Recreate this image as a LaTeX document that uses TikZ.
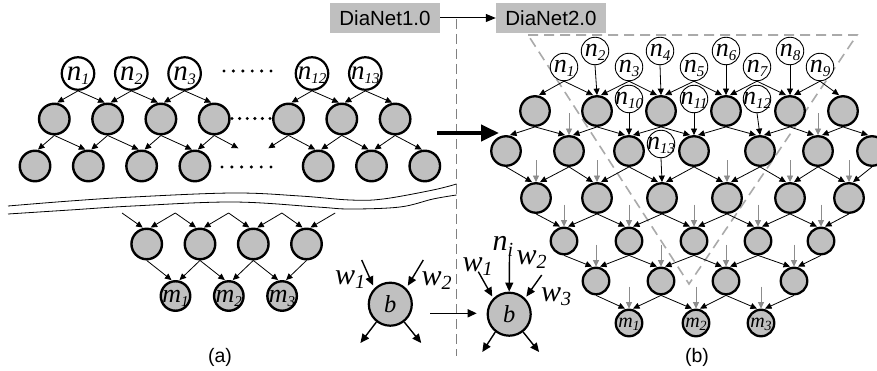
\documentclass[tikz,border=0pt]{standalone}
\usepackage{fontspec}
\setmainfont{Liberation Serif}
\newfontfamily\arialf{Liberation Sans}
\usetikzlibrary{arrows.meta,calc}
\definecolor{gfill}{RGB}{192,192,192}
\definecolor{garrow}{RGB}{140,140,140}
\definecolor{tric}{RGB}{170,170,170}
\definecolor{divc}{RGB}{128,128,128}
\definecolor{boxc}{RGB}{191,191,191}
\newcommand{\fs}[1]{\fontsize{#1}{#1}\selectfont}
\newcommand{\cz}[2]{\smash{\raisebox{#1}{\makebox[0pt]{#2}}}}
\newcommand{\sym}[5]{{\fs{#1}\itshape #4\raisebox{#3}{\fs{#2}#5}}}
\tikzset{
 nA/.style={circle,draw,fill=white,line width=2.2pt,minimum size=32.5pt,inner sep=0pt},
 gA/.style={circle,draw,fill=gfill,line width=2.4pt,minimum size=30.5pt,inner sep=0pt},
 mA/.style={gA,minimum size=29.5pt},
 bN/.style={circle,draw,fill=gfill,line width=2.2pt,minimum size=43pt,inner sep=0pt},
 nB/.style={circle,draw,fill=white,line width=0.9pt,minimum size=27.5pt,inner sep=0pt},
 gB/.style={circle,draw,fill=gfill,line width=2.3pt,minimum size=29.5pt,inner sep=0pt},
 gC/.style={gB,minimum size=26.5pt},
 ar/.style={-{Triangle[length=6.5pt,width=6pt]},line width=0.8pt},
 gar/.style={ar,draw=garrow},
 bar/.style={-{Triangle[length=9pt,width=8pt]},line width=1.4pt},
 box/.style={fill=boxc,minimum width=110pt,minimum height=29.5pt,inner sep=0pt,font=\arialf\fs{20.5}},
 sublab/.style={font=\arialf\fs{19.5},inner sep=0pt},
 wlab/.style={inner sep=0pt},
}
\begin{document}
\begin{tikzpicture}[x=1pt,y=-1pt]
\useasboundingbox (0,0) rectangle (877,371);
\clip (0,0) rectangle (877,371);
\fill[white] (0,0) rectangle (877,371);

% ---------- divider, boxes, big arrow
\coordinate (dvT) at (456.5,19);
\coordinate (dvB) at (456.5,356);
\draw[divc,line width=1.4pt,dash pattern=on 10pt off 5pt] (dvT) -- (dvB);
\node[box] (d1) at (385,18) {DiaNet1.0};
\node[box] (d2) at (551,18) {DiaNet2.0};
\draw[-{Triangle[length=10pt,width=8pt]},line width=1pt] (d1) -- (d2);
\coordinate (bigS) at (437,133);
\coordinate (bigE) at (499,133);
\draw[-{Triangle[length=18pt,width=16pt]},line width=4pt] (bigS) -- (bigE);

% ---------- wave lines
\draw[line width=0.8pt] plot[smooth,tension=0.6] coordinates {(8,206) (70,201) (133,197) (233,193) (300,196) (350,200) (383,199) (433,190) (456.5,184)};
\draw[line width=0.8pt] plot[smooth,tension=0.6] coordinates {(8,214) (70,210) (133,206) (233,202) (317,207) (350,209) (400,207) (433,199) (456.5,195)};

% ---------- part (a)
\node[nA] (nA1) at (78,73.5) {\cz{-6.7pt}{\sym{29}{16}{-4pt}{n}{1}}};
\node[nA] (nA2) at (131.3,73.5) {\cz{-6.7pt}{\sym{29}{16}{-4pt}{n}{2}}};
\node[nA] (nA3) at (184.6,73.5) {\cz{-6.7pt}{\sym{29}{16}{-4pt}{n}{3}}};
\node[nA] (nA12) at (312,73.5) {\cz{-6.3pt}{\sym{27}{15}{-4pt}{n}{12}}};
\node[nA] (nA13) at (365.3,73.5) {\cz{-6.3pt}{\sym{27}{15}{-4pt}{n}{13}}};
\foreach \x [count=\i] in {54.3,107.6,160.9,214.2,288.5,341.8,395.1} \node[gA] (gA\i) at (\x,119) {};
\foreach \x [count=\i] in {35,88.3,141.6,194.9,318.2,371.5,424.8} \node[gA] (hA\i) at (\x,166) {};
\foreach \x in {0,1,2,3,4,5} {
  \fill ({224+9.4*\x},71) circle (1.7);
  \fill ({232+7.6*\x},118.5) circle (1.7);
  \fill ({222+9.8*\x},167) circle (1.7);
}
\foreach \a/\b/\d in {nA1/gA1/3,nA1/gA2/-3,nA2/gA2/3,nA2/gA3/-3,nA3/gA3/3,nA3/gA4/-3,nA12/gA5/3,nA12/gA6/-3,nA13/gA6/3,nA13/gA7/-3,
  gA1/hA1/3,gA1/hA2/-3,gA2/hA2/3,gA2/hA3/-3,gA3/hA3/3,gA3/hA4/-3,gA4/hA4/3,gA5/hA5/-3,gA6/hA5/3,gA6/hA6/-3,gA7/hA6/3,gA7/hA7/-3}
  \draw[ar] (\a.south) -- ([xshift=\d pt]\b.north);
\coordinate (dl1) at (238.3,148.3);
\coordinate (dl2) at (268.3,148.3);
\draw[ar] (gA4.south) -- (dl1);
\draw[ar] (gA5.south) -- (dl2);

\foreach \x [count=\i] in {146.7,200,253.3,306.5} \node[gA] (cA\i) at (\x,244) {};
\foreach \x [count=\i] in {122,175.3,228.6,281.9,335.2} \coordinate (ap\i) at (\x,213);
\foreach \a/\b/\d in {ap1/cA1/-4,ap2/cA1/4,ap2/cA2/-4,ap3/cA2/4,ap3/cA3/-4,ap4/cA3/4,ap4/cA4/-4,ap5/cA4/4}
  \draw[ar] (\a) -- ([xshift=\d pt]\b.north);
\node[mA] (mA1) at (175.5,296) {\cz{-6pt}{\sym{26}{15}{-4pt}{m}{1}}};
\node[mA] (mA2) at (228.8,296) {\cz{-6pt}{\sym{26}{15}{-4pt}{m}{2}}};
\node[mA] (mA3) at (282.1,296) {\cz{-6pt}{\sym{26}{15}{-4pt}{m}{3}}};
\foreach \a/\b/\d in {cA1/mA1/-4,cA2/mA1/4,cA2/mA2/-4,cA3/mA2/4,cA3/mA3/-4,cA4/mA3/4}
  \draw[ar] (\a.south) -- ([xshift=\d pt]\b.north);

% b node of (a)
\node[bN] (bA) at (390.3,304.2) {\cz{-8.4pt}{\fs{24.5}\itshape b}};
\node[wlab] (wA1) at (350,280) {\sym{30}{20}{-4pt}{w}{1}};
\node[wlab] (wA2) at (436.7,281) {\sym{30}{20}{-4pt}{w}{2}};
\coordinate (iA1) at (361.7,260);
\coordinate (iA2) at (423.3,260);
\draw[bar,shorten >=3pt] (iA1) -- (bA.135);
\draw[bar,shorten >=3pt] (iA2) -- (bA.45);
\draw[bar] (bA.-128) -- ++(-16,21);
\draw[bar] (bA.-52) -- ++(17,21);
\coordinate (hA) at (430,313.3);
\coordinate (hB) at (476.7,313.3);
\draw[bar] (hA) -- (hB);

% b node of (b)
\node[bN] (bB) at (509.2,314.2) {\cz{-8.4pt}{\fs{24.5}\itshape b}};
\node[wlab] (niL) at (503,246) {\sym{30}{20}{-6pt}{n}{i}};
\node[wlab] (wB1) at (477.5,267) {\sym{30}{20}{-4pt}{w}{1}};
\node[wlab] (wB2) at (531.7,260) {\sym{30}{20}{-4pt}{w}{2}};
\node[wlab] (wB3) at (556,297) {\sym{30}{20}{-4pt}{w}{3}};
\coordinate (iB0) at (509.5,255);
\coordinate (iB1) at (478.3,271.7);
\coordinate (iB2) at (541.7,275);
\draw[bar] (iB0) -- (bB.north);
\draw[bar,shorten >=2pt] (iB1) -- (bB.135);
\draw[bar,shorten >=2pt] (iB2) -- (bB.45);
\draw[bar] (bB.-128) -- ++(-13,20);
\draw[bar] (bB.-52) -- ++(16,20);

% ---------- part (b)
\coordinate (tA) at (528,35);
\coordinate (tB) at (857,35);
\coordinate (tC) at (689,284);
\draw[tric,line width=1.6pt,dash pattern=on 10pt off 6pt] (tA) -- (tB) -- (tC) -- cycle;

\foreach \x [count=\i] in {535,597,661,726,790,843} \node[gB] (R1-\i) at (\x,111) {};
\foreach \x [count=\i] in {506,569,629,694,760,818,872} \node[gB] (R2-\i) at (\x,151) {};
\foreach \x [count=\i] in {536,597,662,727,790,849} \node[gB] (R3-\i) at (\x,198) {};
\foreach \x [count=\i] in {564,629,694,758,821} \node[gC] (R4-\i) at (\x,241) {};
\foreach \x [count=\i] in {596,661,726,794} \node[gC] (R5-\i) at (\x,281) {};
\node[gC] (R6-1) at (629,323) {\cz{-4.6pt}{\sym{20}{14}{-3pt}{m}{1}}};
\node[gC] (R6-2) at (696,323) {\cz{-4.6pt}{\sym{20}{14}{-3pt}{m}{2}}};
\node[gC] (R6-3) at (761,323) {\cz{-4.6pt}{\sym{20}{14}{-3pt}{m}{3}}};

\foreach \i/\x/\y in {1/564/67,2/595/51,3/629/67,4/660/51,5/694/67,6/726/51,7/757/67,8/790/51,9/820/67,10/629/99,11/694/99,12/757/99,13/661/144}
  \node[nB] (nB\i) at (\x,\y) {\cz{-6pt}{\sym{26}{15}{-4pt}{n}{\i}}};

\foreach \a/\b/\d in {nB1/R1-1/4,nB1/R1-2/-4,nB3/R1-2/4,nB3/R1-3/-4,nB5/R1-3/4,nB5/R1-4/-4,nB7/R1-4/4,nB7/R1-5/-4,nB9/R1-5/4,nB9/R1-6/-4,
  nB2/R1-2/0,nB4/R1-3/0,nB6/R1-4/0,nB8/R1-5/0,nB10/R2-3/0,nB11/R2-4/0,nB12/R2-5/0,nB13/R3-3/0,
  R1-1/R2-1/4,R1-1/R2-2/-4,R1-2/R2-2/4,R1-2/R2-3/-4,R1-3/R2-3/4,R1-3/R2-4/-4,R1-4/R2-4/4,R1-4/R2-5/-4,R1-5/R2-5/4,R1-5/R2-6/-4,R1-6/R2-6/4,R1-6/R2-7/-4,
  R2-1/R3-1/-4,R2-2/R3-1/4,R2-2/R3-2/-4,R2-3/R3-2/4,R2-3/R3-3/-4,R2-4/R3-3/4,R2-4/R3-4/-4,R2-5/R3-4/4,R2-5/R3-5/-4,R2-6/R3-5/4,R2-6/R3-6/-4,R2-7/R3-6/4,
  R3-1/R4-1/-4,R3-2/R4-1/4,R3-2/R4-2/-4,R3-3/R4-2/4,R3-3/R4-3/-4,R3-4/R4-3/4,R3-4/R4-4/-4,R3-5/R4-4/4,R3-5/R4-5/-4,R3-6/R4-5/4,
  R4-1/R5-1/-4,R4-2/R5-1/4,R4-2/R5-2/-4,R4-3/R5-2/4,R4-3/R5-3/-4,R4-4/R5-3/4,R4-4/R5-4/-4,R4-5/R5-4/4,
  R5-1/R6-1/-4,R5-2/R6-1/4,R5-2/R6-2/-4,R5-3/R6-2/4,R5-3/R6-3/-4,R5-4/R6-3/4}
  \draw[ar] (\a.south) -- ([xshift=\d pt]\b.north);

\foreach \t in {R2-2,R2-6,R3-1,R3-2,R3-4,R3-5,R3-6,R4-1,R4-2,R4-3,R4-4,R4-5,R5-1,R5-2,R5-3,R5-4,R6-1,R6-2,R6-3}
  \draw[gar] ([yshift=22pt]\t.north) -- (\t.north);

% ---------- captions
\node[sublab] (capA) at (220,357) {(a)};
\node[sublab] (capB) at (697,357) {(b)};
\end{tikzpicture}
\end{document}
